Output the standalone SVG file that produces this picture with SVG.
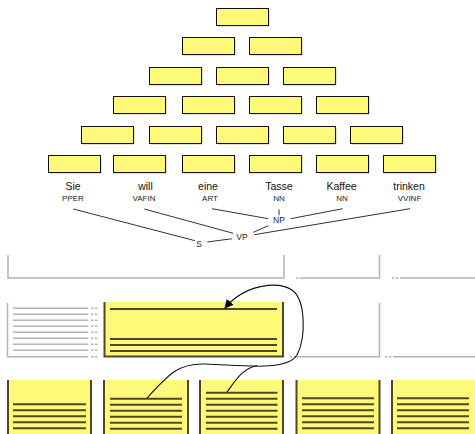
<svg xmlns="http://www.w3.org/2000/svg" width="475" height="434" viewBox="0 0 475 434">
<defs>
<style>
.box{fill:#fff97a;stroke:#111;stroke-width:1}
.sh{fill:#8a8a8a;opacity:0.55}
.w{font-family:"Liberation Sans",Arial,sans-serif;font-size:10.5px;fill:#111;text-anchor:middle}
.t{font-family:"Liberation Sans",Arial,sans-serif;font-size:8px;fill:#222;text-anchor:middle}
.n{font-family:"Liberation Sans",Arial,sans-serif;font-size:8.5px;fill:#222;text-anchor:middle}
.e{stroke:#333;stroke-width:1;fill:none}
.g{stroke:#b3b3b3;stroke-width:1.5;fill:none}
.gd{stroke:#b3b3b3;stroke-width:1.5;fill:none;stroke-dasharray:2.5,1.5}
.y{fill:#fff97a}
.b{stroke:#4d4829;stroke-width:2;fill:none}
.l{stroke:#4d4829;stroke-width:2}
.c{stroke:#111;stroke-width:1.1;fill:none}
</style>
<marker id="ah" viewBox="0 0 10 10" refX="9" refY="5" markerWidth="9" markerHeight="9" markerUnits="userSpaceOnUse" orient="auto">
<path d="M0,0 L10,5 L0,10 z" fill="#000"/>
</marker>
<g id="bx"><rect class="sh" x="1" y="1" width="52" height="17"/><rect class="box" x="0" y="0" width="52" height="17"/></g>
</defs>

<g id="pyramid">
<use href="#bx" x="216.5" y="8.5"/>
<use href="#bx" x="182.5" y="37.5"/><use href="#bx" x="249.5" y="37.5"/>
<use href="#bx" x="149.5" y="67.5"/><use href="#bx" x="216.5" y="67.5"/><use href="#bx" x="283.5" y="67.5"/>
<use href="#bx" x="113.5" y="96.5"/><use href="#bx" x="182.5" y="96.5"/><use href="#bx" x="249.5" y="96.5"/><use href="#bx" x="316.5" y="96.5"/>
<use href="#bx" x="81.5" y="126.5"/><use href="#bx" x="149.5" y="126.5"/><use href="#bx" x="216.5" y="126.5"/><use href="#bx" x="283.5" y="126.5"/><use href="#bx" x="350.5" y="126.5"/>
<use href="#bx" x="48.5" y="155.5"/><use href="#bx" x="113.5" y="155.5"/><use href="#bx" x="182.5" y="155.5"/><use href="#bx" x="249.5" y="155.5"/><use href="#bx" x="316.5" y="155.5"/><use href="#bx" x="383.5" y="155.5"/>
</g>

<g id="w-sie"><text class="w" x="73" y="190">Sie</text><text class="t" x="73" y="200.5">PPER</text></g>
<g id="w-will"><text class="w" x="145.5" y="190">will</text><text class="t" x="144" y="200.5">VAFIN</text></g>
<g id="w-eine"><text class="w" x="208" y="190">eine</text><text class="t" x="210" y="200.5">ART</text></g>
<g id="w-tasse"><text class="w" x="279" y="190">Tasse</text><text class="t" x="279" y="200.5">NN</text></g>
<g id="w-kaffee"><text class="w" x="341.5" y="190">Kaffee</text><text class="t" x="342" y="200.5">NN</text></g>
<g id="w-trinken"><text class="w" x="409" y="190">trinken</text><text class="t" x="409.5" y="200.5">VVINF</text></g>
<g id="n-np"><text class="n" x="279" y="222.5">NP</text></g>
<g id="n-vp"><text class="n" x="242" y="240">VP</text></g>
<g id="n-s"><text class="n" x="199" y="246.5">S</text></g>

<g id="edges">
<line class="e" x1="73.3" y1="209" x2="195" y2="240.7"/>
<line class="e" x1="144.3" y1="209" x2="233.3" y2="233.3"/>
<line class="e" x1="212" y1="208.7" x2="268.3" y2="218.7"/>
<line class="e" x1="279" y1="209.3" x2="279" y2="215.3"/>
<line class="e" x1="342.7" y1="208.7" x2="290.7" y2="218.7"/>
<line class="e" x1="268.3" y1="225.7" x2="253.3" y2="232.3"/>
<line class="e" x1="410" y1="208.7" x2="254.3" y2="234.7"/>
<line class="e" x1="207.3" y1="242" x2="232.3" y2="238.7"/>
</g>

<g id="brackets1">
<path class="g" d="M8,255 V278 H284 V255"/>
<line class="gd" x1="296" y1="278" x2="302" y2="278"/>
<path class="g" d="M302,278 H379.5 V255"/>
<line class="gd" x1="392" y1="278" x2="400" y2="278"/>
<line class="g" x1="400" y1="278" x2="475" y2="278"/>
</g>

<g id="graybox">
<path class="g" d="M7.5,303 V356.7 H88"/>
<line class="gd" x1="91" y1="356.7" x2="99" y2="356.7"/>
<g class="g">
<line x1="13" y1="308.3" x2="88" y2="308.3"/><line x1="13" y1="314.3" x2="88" y2="314.3"/>
<line x1="13" y1="320.3" x2="88" y2="320.3"/><line x1="13" y1="326.3" x2="88" y2="326.3"/>
<line x1="13" y1="332.3" x2="88" y2="332.3"/><line x1="13" y1="338.3" x2="88" y2="338.3"/>
<line x1="13" y1="344.3" x2="88" y2="344.3"/><line x1="13" y1="350.3" x2="88" y2="350.3"/>
</g>
<g class="gd">
<line x1="91" y1="308.3" x2="99" y2="308.3"/><line x1="91" y1="314.3" x2="99" y2="314.3"/>
<line x1="91" y1="320.3" x2="99" y2="320.3"/><line x1="91" y1="326.3" x2="99" y2="326.3"/>
<line x1="91" y1="332.3" x2="99" y2="332.3"/><line x1="91" y1="338.3" x2="99" y2="338.3"/>
<line x1="91" y1="344.3" x2="99" y2="344.3"/><line x1="91" y1="350.3" x2="99" y2="350.3"/>
</g>
</g>

<g id="yellowblock">
<rect class="y" x="104" y="302" width="179" height="55"/>
<path class="b" d="M104.5,302 V356.5 H283 V302"/>
<line class="l" x1="110" y1="309" x2="277" y2="309"/>
<line class="l" x1="110" y1="339" x2="277" y2="339"/>
<line class="l" x1="110" y1="345" x2="277" y2="345"/>
<line class="l" x1="110" y1="351" x2="277" y2="351"/>
</g>

<g id="brackets2">
<line class="gd" x1="290" y1="356.7" x2="297" y2="356.7"/>
<path class="g" d="M297,356.7 H379.5 V303"/>
<line class="gd" x1="385" y1="356.7" x2="395" y2="356.7"/>
<line class="g" x1="395" y1="356.7" x2="475" y2="356.7"/>
</g>

<g id="bottom1">
<rect class="y" x="7.5" y="380" width="84" height="54"/>
<path class="b" d="M8,380 V434 M91,380 V434"/>
<g class="l"><line x1="13" y1="404.3" x2="86" y2="404.3"/><line x1="13" y1="410.3" x2="86" y2="410.3"/><line x1="13" y1="416.3" x2="86" y2="416.3"/><line x1="13" y1="422.3" x2="86" y2="422.3"/><line x1="13" y1="428.3" x2="86" y2="428.3"/></g>
</g>
<g id="bottom2">
<rect class="y" x="103.5" y="380" width="85" height="54"/>
<path class="b" d="M104,380 V434 M188,380 V434"/>
<g class="l"><line x1="110" y1="398.7" x2="182" y2="398.7"/><line x1="110" y1="404.7" x2="182" y2="404.7"/><line x1="110" y1="410.7" x2="182" y2="410.7"/><line x1="110" y1="416.7" x2="182" y2="416.7"/><line x1="110" y1="422.7" x2="182" y2="422.7"/><line x1="110" y1="428.7" x2="182" y2="428.7"/></g>
</g>
<g id="bottom3">
<rect class="y" x="199.5" y="380" width="84" height="54"/>
<path class="b" d="M200,380 V434 M283,380 V434"/>
<g class="l"><line x1="206" y1="392.7" x2="277.5" y2="392.7"/><line x1="206" y1="398.7" x2="277.5" y2="398.7"/><line x1="206" y1="404.7" x2="277.5" y2="404.7"/><line x1="206" y1="410.7" x2="277.5" y2="410.7"/><line x1="206" y1="416.7" x2="277.5" y2="416.7"/><line x1="206" y1="422.7" x2="277.5" y2="422.7"/><line x1="206" y1="428.7" x2="277.5" y2="428.7"/></g>
</g>
<g id="bottom4">
<rect class="y" x="296" y="380" width="84" height="54"/>
<path class="b" d="M296.5,380 V434 M379.5,380 V434"/>
<g class="l"><line x1="302" y1="398.3" x2="374" y2="398.3"/><line x1="302" y1="404.3" x2="374" y2="404.3"/><line x1="302" y1="410.3" x2="374" y2="410.3"/><line x1="302" y1="416.3" x2="374" y2="416.3"/><line x1="302" y1="422.3" x2="374" y2="422.3"/><line x1="302" y1="428.3" x2="374" y2="428.3"/></g>
</g>
<g id="bottom5">
<rect class="y" x="391.5" y="380" width="84" height="54"/>
<path class="b" d="M392,380 V434"/>
<g class="l"><line x1="397" y1="398.3" x2="469" y2="398.3"/><line x1="397" y1="404.3" x2="469" y2="404.3"/><line x1="397" y1="410.3" x2="469" y2="410.3"/><line x1="397" y1="416.3" x2="469" y2="416.3"/><line x1="397" y1="422.3" x2="469" y2="422.3"/><line x1="397" y1="428.3" x2="469" y2="428.3"/></g>
</g>

<g id="connectors">
<path class="c" d="M147,398 C168,375 178,363 205,364 C240,365 286,372 297,355 C306,338 306,300 292,290 C278,281 245,284 225,308" marker-end="url(#ah)"/>
<path class="c" d="M227,392 C236,380 242,369 257,365.5"/>
</g>
</svg>
